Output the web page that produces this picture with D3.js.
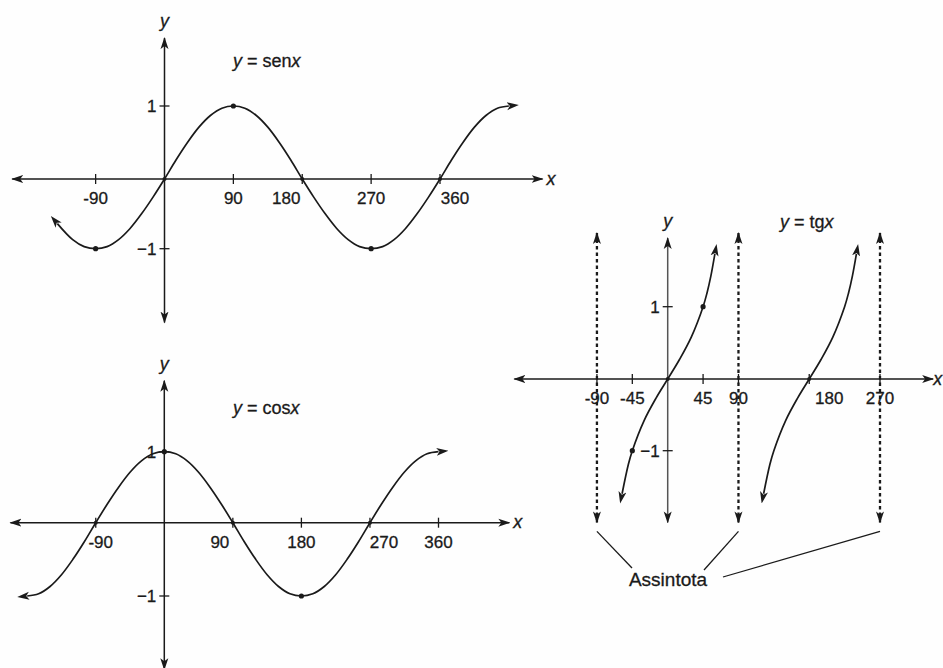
<!DOCTYPE html>
<html><head><meta charset="utf-8">
<script src="https://cdn.jsdelivr.net/npm/d3@7"></script>
<style>
html,body{margin:0;padding:0;background:#fff;}
svg{display:block;}
text{font-family:"Liberation Sans",Arial,sans-serif;fill:#1a1a1a;stroke:#1a1a1a;stroke-width:0.3px;}
</style></head>
<body><svg id="c" width="943" height="668"></svg>
<script>
// ---------- data ----------
const sinAngles = [-140,-120,-105,-90,-75,-60,-45,-30,-15,0,15,30,45,60,75,90,105,120,135,150,165,180,195,210,225,240,255,270,285,300,315,330,345,360,375,390,405,420,435,450];
const sinValues = [-0.64,-0.87,-0.97,-1,-0.97,-0.87,-0.71,-0.5,-0.26,0,0.26,0.5,0.71,0.87,0.97,1,0.97,0.87,0.71,0.5,0.26,0,-0.26,-0.5,-0.71,-0.87,-0.97,-1,-0.97,-0.87,-0.71,-0.5,-0.26,0,0.26,0.5,0.71,0.87,0.97,1];
const sinXTicks = [-90,90,180,270,360];
const sinYTicks = [1,-1];
const sinDots = [[-90,-1],[90,1],[270,-1],[0,0],[180,0],[360,0]];

const cosAngles = [-180,-165,-150,-135,-120,-105,-90,-75,-60,-45,-30,-15,0,15,30,45,60,75,90,105,120,135,150,165,180,195,210,225,240,255,270,285,300,315,330,345,360];
const cosValues = [-1,-0.97,-0.87,-0.71,-0.5,-0.26,0,0.26,0.5,0.71,0.87,0.97,1,0.97,0.87,0.71,0.5,0.26,0,-0.26,-0.5,-0.71,-0.87,-0.97,-1,-0.97,-0.87,-0.71,-0.5,-0.26,0,0.26,0.5,0.71,0.87,0.97,1];
const cosXTicks = [-90,90,180,270,360];
const cosYTicks = [1,-1];
const cosDots = [[180,-1],[0,1],[-90,0],[90,0],[270,0]];

const tanAngles1 = [-58,-50,-45,-30,-15,0,15,30,45,50,55,60];
const tanAngles2 = [122,130,135,150,165,180,195,210,225,230,235,240];
const tanValues  = [-1.6,-1.19,-1,-0.58,-0.27,0,0.27,0.58,1,1.19,1.43,1.73];
const tanXTicks = [-90,-45,45,90,180,270];
const tanYTicks = [1,-1];
const tanAsymptotes = [-90,90,270];
const tanDots = [[-45,-1],[45,1],[0,0],[180,0]];
const asymptoteLabel = "Assintota";

// ---------- layout ----------
const svg = d3.select("#c");
svg.append("rect").attr("width",943).attr("height",668).attr("fill","#fefefe");
const INK = "#1a1a1a";
const defs = svg.append("defs");
function marker(id, refX){
  defs.append("marker").attr("id",id).attr("viewBox","0 -5 12 10")
    .attr("markerWidth",12).attr("markerHeight",10).attr("markerUnits","userSpaceOnUse")
    .attr("refX",refX).attr("refY",0).attr("orient","auto-start-reverse")
    .append("path").attr("d","M0,-4 L12,0 L0,4 L3,0Z").attr("fill",INK);
}
marker("axisArrow",11);
marker("curveArrow",2);

const panels = [
  {name:"sin", x:d3.scaleLinear().domain([0,360]).range([164.5,440]),
   y:d3.scaleLinear().domain([-1,0,1]).range([248.7,179,106]),
   xExt:[-199,494], yExt:[-2.06,1.93], xTicks:sinXTicks, yTicks:sinYTicks,
   tickDx:{"-90":0,"90":0,"180":-16,"270":0,"360":15},
   curves:[{a:sinAngles,v:sinValues}], dots:sinDots,
   title:["y"," = sen","x"], titlePos:[233,67]},
  {name:"cos", x:d3.scaleLinear().domain([0,360]).range([164.3,438.5]),
   y:d3.scaleLinear().domain([-1,0,1]).range([596,522.7,451.7]),
   xExt:[-202,453], yExt:[-2.0,2.0], xTicks:cosXTicks, yTicks:cosYTicks,
   tickDx:{"-90":5,"90":-13,"180":0,"270":14,"360":0},
   curves:[{a:cosAngles,v:cosValues}], dots:cosDots,
   title:["y"," = cos","x"], titlePos:[233,414]},
  {name:"tan", x:d3.scaleLinear().domain([0,270]).range([667.7,880]),
   y:d3.scaleLinear().domain([-1,0,1]).range([450.7,379,306.7]),
   xExt:[-195,337.6], yExt:[-2.0,1.95], xTicks:tanXTicks, yTicks:tanYTicks,
   tickDx:{"-90":0,"-45":0,"45":0,"90":0,"180":20,"270":0},
   curves:[{a:tanAngles1,v:tanValues},{a:tanAngles2,v:tanValues}], dots:tanDots,
   title:["y"," = tg","x"], titlePos:[780,228], asym:tanAsymptotes, yAxisColor:"#555", xLabelGap:0}
];

panels.forEach(p=>{
  const g = svg.append("g");
  const x0 = p.x(0), y0 = p.y(0);
  if(p.asym){
    g.selectAll("line.asym").data(p.asym).join("line")
      .attr("x1",d=>p.x(d)).attr("x2",d=>p.x(d))
      .attr("y1",p.y(-2.0)).attr("y2",p.y(2.02))
      .attr("stroke",INK).attr("stroke-width",2.3).attr("stroke-dasharray","3.5,3")
      .attr("marker-start","url(#axisArrow)").attr("marker-end","url(#axisArrow)");
  }
  g.append("line").attr("x1",p.x(p.xExt[0])).attr("x2",p.x(p.xExt[1]))
    .attr("y1",y0).attr("y2",y0).attr("stroke",INK).attr("stroke-width",1.5)
    .attr("marker-start","url(#axisArrow)").attr("marker-end","url(#axisArrow)");
  g.append("line").attr("x1",x0).attr("x2",x0)
    .attr("y1",p.y(p.yExt[0])).attr("y2",p.y(p.yExt[1]))
    .attr("stroke",p.yAxisColor||INK).attr("stroke-width",1.5)
    .attr("marker-start","url(#axisArrow)").attr("marker-end","url(#axisArrow)");
  g.selectAll("line.xt").data(p.xTicks).join("line")
    .attr("x1",d=>p.x(d)).attr("x2",d=>p.x(d)).attr("y1",y0-5).attr("y2",y0+5)
    .attr("stroke",INK).attr("stroke-width",1.3);
  g.selectAll("text.xt").data(p.xTicks).join("text")
    .attr("x",d=>p.x(d)+(p.tickDx[String(d)]||0)).attr("y",y0+25)
    .attr("text-anchor","middle").attr("font-size",17)
    .text(d=>String(d));
  g.selectAll("line.yt").data(p.yTicks).join("line")
    .attr("x1",x0-5).attr("x2",x0+5).attr("y1",d=>p.y(d)).attr("y2",d=>p.y(d))
    .attr("stroke",INK).attr("stroke-width",1.3);
  g.selectAll("text.yt").data(p.yTicks).join("text")
    .attr("x",x0-8).attr("y",d=>p.y(d)).attr("dy","0.36em")
    .attr("text-anchor","end").attr("font-size",17)
    .text(d=>d<0?"\u2212"+Math.abs(d):String(d));
  g.append("text").attr("x",x0).attr("y",p.y(p.yExt[1])-11)
    .attr("text-anchor","middle").attr("font-size",18).attr("font-style","italic").text("y");
  g.append("text").attr("x",p.x(p.xExt[1])+(p.xLabelGap!==undefined?p.xLabelGap:4)).attr("y",y0).attr("dy","0.32em")
    .attr("font-size",18).attr("font-style","italic").text("x");
  const line = d3.line().x(d=>p.x(d[0])).y(d=>p.y(d[1])).curve(d3.curveCatmullRom.alpha(0.5));
  p.curves.forEach(c=>{
    g.append("path").datum(c.a.map((a,i)=>[a,c.v[i]])).attr("d",line)
      .attr("fill","none").attr("stroke",INK).attr("stroke-width",1.7)
      .attr("marker-start","url(#curveArrow)").attr("marker-end","url(#curveArrow)");
  });
  g.selectAll("circle").data(p.dots).join("circle")
    .attr("cx",d=>p.x(d[0])).attr("cy",d=>p.y(d[1]))
    .attr("r",d=>d[1]===0?2:2.6).attr("fill",INK);
  const t = g.append("text").attr("x",p.titlePos[0]).attr("y",p.titlePos[1]).attr("font-size",18);
  t.append("tspan").attr("font-style","italic").text(p.title[0]);
  t.append("tspan").text(p.title[1]);
  t.append("tspan").attr("font-style","italic").text(p.title[2]);
});

const tp = panels[2];
const lbl = {x:668, y:586};
const pointerEnds = [[632,568],[704,570],[723,577]];
svg.selectAll("line.ptr").data(tanAsymptotes).join("line")
  .attr("x1",d=>tp.x(d)).attr("y1",tp.y(-2.0)+9)
  .attr("x2",(d,i)=>pointerEnds[i][0]).attr("y2",(d,i)=>pointerEnds[i][1])
  .attr("stroke",INK).attr("stroke-width",1.3);
svg.append("text").attr("x",lbl.x).attr("y",lbl.y).attr("text-anchor","middle")
  .attr("font-size",19).text(asymptoteLabel);
</script></body></html>
